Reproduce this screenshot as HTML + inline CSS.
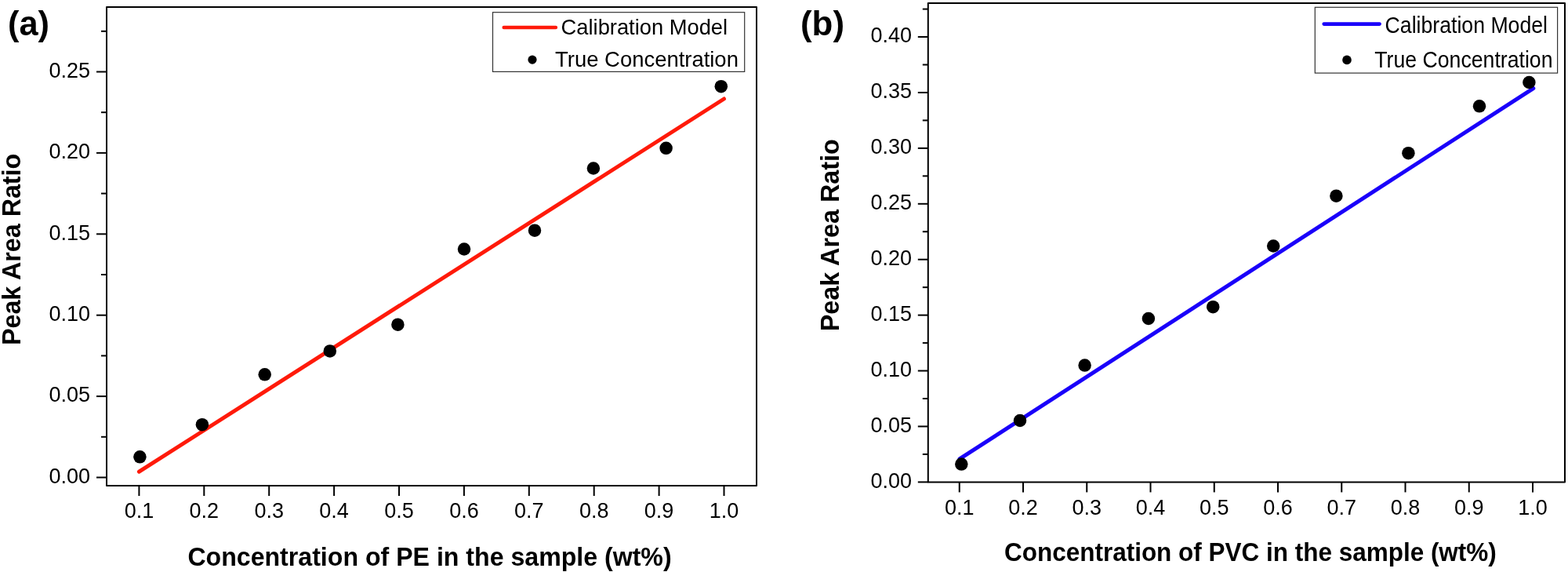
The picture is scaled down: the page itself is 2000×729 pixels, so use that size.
<!DOCTYPE html><html><head><meta charset="utf-8"><style>html,body{margin:0;padding:0;background:#fff;}svg{display:block;}text{font-family:"Liberation Sans",Arial,sans-serif;}</style></head><body>
<svg width="2000" height="729" viewBox="0 0 2000 729">
<rect width="2000" height="729" fill="#fff"/>
<line x1="177.4" y1="601.15" x2="923.5" y2="126.0" stroke="#ff1a0a" stroke-width="5" stroke-linecap="round"/>
<circle cx="178.4" cy="582.3" r="8.25" fill="#000"/>
<circle cx="257.9" cy="541.2" r="8.25" fill="#000"/>
<circle cx="337.7" cy="477.3" r="8.25" fill="#000"/>
<circle cx="420.8" cy="447.4" r="8.25" fill="#000"/>
<circle cx="507.4" cy="413.7" r="8.25" fill="#000"/>
<circle cx="592" cy="317.5" r="8.25" fill="#000"/>
<circle cx="682.0" cy="293.7" r="8.25" fill="#000"/>
<circle cx="756.9" cy="214.5" r="8.25" fill="#000"/>
<circle cx="849.6" cy="188.8" r="8.25" fill="#000"/>
<circle cx="919.8" cy="110.2" r="8.25" fill="#000"/>
<rect x="136" y="9" width="829" height="610" fill="none" stroke="#000" stroke-width="2" stroke-linejoin="round"/>
<line x1="123" y1="608.50" x2="136" y2="608.50" stroke="#000" stroke-width="2"/>
<text x="115" y="615.70" font-size="27" text-anchor="end">0.00</text>
<line x1="129" y1="556.80" x2="136" y2="556.80" stroke="#000" stroke-width="2"/>
<line x1="123" y1="505.10" x2="136" y2="505.10" stroke="#000" stroke-width="2"/>
<text x="115" y="512.30" font-size="27" text-anchor="end">0.05</text>
<line x1="129" y1="453.40" x2="136" y2="453.40" stroke="#000" stroke-width="2"/>
<line x1="123" y1="401.70" x2="136" y2="401.70" stroke="#000" stroke-width="2"/>
<text x="115" y="408.90" font-size="27" text-anchor="end">0.10</text>
<line x1="129" y1="350.00" x2="136" y2="350.00" stroke="#000" stroke-width="2"/>
<line x1="123" y1="298.30" x2="136" y2="298.30" stroke="#000" stroke-width="2"/>
<text x="115" y="305.50" font-size="27" text-anchor="end">0.15</text>
<line x1="129" y1="246.60" x2="136" y2="246.60" stroke="#000" stroke-width="2"/>
<line x1="123" y1="194.90" x2="136" y2="194.90" stroke="#000" stroke-width="2"/>
<text x="115" y="202.10" font-size="27" text-anchor="end">0.20</text>
<line x1="129" y1="143.20" x2="136" y2="143.20" stroke="#000" stroke-width="2"/>
<line x1="123" y1="91.50" x2="136" y2="91.50" stroke="#000" stroke-width="2"/>
<text x="115" y="98.70" font-size="27" text-anchor="end">0.25</text>
<line x1="129" y1="39.80" x2="136" y2="39.80" stroke="#000" stroke-width="2"/>
<line x1="177.40" y1="619" x2="177.40" y2="632" stroke="#000" stroke-width="2"/>
<text x="177.40" y="660" font-size="27" text-anchor="middle">0.1</text>
<line x1="260.30" y1="619" x2="260.30" y2="632" stroke="#000" stroke-width="2"/>
<text x="260.30" y="660" font-size="27" text-anchor="middle">0.2</text>
<line x1="343.20" y1="619" x2="343.20" y2="632" stroke="#000" stroke-width="2"/>
<text x="343.20" y="660" font-size="27" text-anchor="middle">0.3</text>
<line x1="426.10" y1="619" x2="426.10" y2="632" stroke="#000" stroke-width="2"/>
<text x="426.10" y="660" font-size="27" text-anchor="middle">0.4</text>
<line x1="509.00" y1="619" x2="509.00" y2="632" stroke="#000" stroke-width="2"/>
<text x="509.00" y="660" font-size="27" text-anchor="middle">0.5</text>
<line x1="591.90" y1="619" x2="591.90" y2="632" stroke="#000" stroke-width="2"/>
<text x="591.90" y="660" font-size="27" text-anchor="middle">0.6</text>
<line x1="674.80" y1="619" x2="674.80" y2="632" stroke="#000" stroke-width="2"/>
<text x="674.80" y="660" font-size="27" text-anchor="middle">0.7</text>
<line x1="757.70" y1="619" x2="757.70" y2="632" stroke="#000" stroke-width="2"/>
<text x="757.70" y="660" font-size="27" text-anchor="middle">0.8</text>
<line x1="840.60" y1="619" x2="840.60" y2="632" stroke="#000" stroke-width="2"/>
<text x="840.60" y="660" font-size="27" text-anchor="middle">0.9</text>
<line x1="923.50" y1="619" x2="923.50" y2="632" stroke="#000" stroke-width="2"/>
<text x="923.50" y="660" font-size="27" text-anchor="middle">1.0</text>
<rect x="628.5" y="15.7" width="321.20000000000005" height="75.7" fill="#fff" stroke="#333" stroke-width="1.2"/>
<line x1="642.7" y1="35.1" x2="708.9" y2="35.1" stroke="#ff1a0a" stroke-width="4.5" stroke-linecap="round"/>
<circle cx="679" cy="76.1" r="5.6" fill="#000"/>
<text x="715.6" y="43.8" font-size="28" textLength="212.5" lengthAdjust="spacingAndGlyphs">Calibration Model</text>
<text x="708.1" y="84.8" font-size="28" textLength="233.8" lengthAdjust="spacingAndGlyphs">True Concentration</text>
<text x="239.4" y="720.6" font-size="33.3" font-weight="bold" textLength="617.2" lengthAdjust="spacingAndGlyphs">Concentration of PE in the sample (wt%)</text>
<text x="25.8" y="440.0" font-size="33.3" font-weight="bold" textLength="244.2" lengthAdjust="spacingAndGlyphs" transform="rotate(-90 25.8 440.0)">Peak Area Ratio</text>
<text x="10.0" y="45" font-size="44" font-weight="bold" textLength="53.0" lengthAdjust="spacingAndGlyphs">(a)</text>
<line x1="1224" y1="584.9" x2="1955.8" y2="112.6" stroke="#1a00fa" stroke-width="5" stroke-linecap="round"/>
<circle cx="1226.3" cy="591.6" r="8.25" fill="#000"/>
<circle cx="1301" cy="536" r="8.25" fill="#000"/>
<circle cx="1383.6" cy="465.6" r="8.25" fill="#000"/>
<circle cx="1464.9" cy="406" r="8.25" fill="#000"/>
<circle cx="1547.2" cy="391.2" r="8.25" fill="#000"/>
<circle cx="1624.2" cy="313.5" r="8.25" fill="#000"/>
<circle cx="1704.4" cy="249.7" r="8.25" fill="#000"/>
<circle cx="1796.4" cy="195.2" r="8.25" fill="#000"/>
<circle cx="1887" cy="135.3" r="8.25" fill="#000"/>
<circle cx="1950.4" cy="105" r="8.25" fill="#000"/>
<rect x="1183.8" y="4" width="812.2" height="610.4" fill="none" stroke="#000" stroke-width="2" stroke-linejoin="round"/>
<line x1="1170.8" y1="614.40" x2="1183.8" y2="614.40" stroke="#000" stroke-width="2"/>
<text x="1163" y="621.70" font-size="27" text-anchor="end">0.00</text>
<line x1="1176.8" y1="578.94" x2="1183.8" y2="578.94" stroke="#000" stroke-width="2"/>
<line x1="1170.8" y1="543.48" x2="1183.8" y2="543.48" stroke="#000" stroke-width="2"/>
<text x="1163" y="550.78" font-size="27" text-anchor="end">0.05</text>
<line x1="1176.8" y1="508.02" x2="1183.8" y2="508.02" stroke="#000" stroke-width="2"/>
<line x1="1170.8" y1="472.56" x2="1183.8" y2="472.56" stroke="#000" stroke-width="2"/>
<text x="1163" y="479.86" font-size="27" text-anchor="end">0.10</text>
<line x1="1176.8" y1="437.10" x2="1183.8" y2="437.10" stroke="#000" stroke-width="2"/>
<line x1="1170.8" y1="401.64" x2="1183.8" y2="401.64" stroke="#000" stroke-width="2"/>
<text x="1163" y="408.94" font-size="27" text-anchor="end">0.15</text>
<line x1="1176.8" y1="366.18" x2="1183.8" y2="366.18" stroke="#000" stroke-width="2"/>
<line x1="1170.8" y1="330.72" x2="1183.8" y2="330.72" stroke="#000" stroke-width="2"/>
<text x="1163" y="338.02" font-size="27" text-anchor="end">0.20</text>
<line x1="1176.8" y1="295.26" x2="1183.8" y2="295.26" stroke="#000" stroke-width="2"/>
<line x1="1170.8" y1="259.80" x2="1183.8" y2="259.80" stroke="#000" stroke-width="2"/>
<text x="1163" y="267.10" font-size="27" text-anchor="end">0.25</text>
<line x1="1176.8" y1="224.34" x2="1183.8" y2="224.34" stroke="#000" stroke-width="2"/>
<line x1="1170.8" y1="188.88" x2="1183.8" y2="188.88" stroke="#000" stroke-width="2"/>
<text x="1163" y="196.18" font-size="27" text-anchor="end">0.30</text>
<line x1="1176.8" y1="153.42" x2="1183.8" y2="153.42" stroke="#000" stroke-width="2"/>
<line x1="1170.8" y1="117.96" x2="1183.8" y2="117.96" stroke="#000" stroke-width="2"/>
<text x="1163" y="125.26" font-size="27" text-anchor="end">0.35</text>
<line x1="1176.8" y1="82.50" x2="1183.8" y2="82.50" stroke="#000" stroke-width="2"/>
<line x1="1170.8" y1="47.04" x2="1183.8" y2="47.04" stroke="#000" stroke-width="2"/>
<text x="1163" y="54.34" font-size="27" text-anchor="end">0.40</text>
<line x1="1176.8" y1="11.58" x2="1183.8" y2="11.58" stroke="#000" stroke-width="2"/>
<line x1="1223.75" y1="614.4" x2="1223.75" y2="627.4" stroke="#000" stroke-width="2"/>
<text x="1223.75" y="655.7" font-size="27" text-anchor="middle">0.1</text>
<line x1="1305.00" y1="614.4" x2="1305.00" y2="627.4" stroke="#000" stroke-width="2"/>
<text x="1305.00" y="655.7" font-size="27" text-anchor="middle">0.2</text>
<line x1="1386.25" y1="614.4" x2="1386.25" y2="627.4" stroke="#000" stroke-width="2"/>
<text x="1386.25" y="655.7" font-size="27" text-anchor="middle">0.3</text>
<line x1="1467.50" y1="614.4" x2="1467.50" y2="627.4" stroke="#000" stroke-width="2"/>
<text x="1467.50" y="655.7" font-size="27" text-anchor="middle">0.4</text>
<line x1="1548.75" y1="614.4" x2="1548.75" y2="627.4" stroke="#000" stroke-width="2"/>
<text x="1548.75" y="655.7" font-size="27" text-anchor="middle">0.5</text>
<line x1="1630.00" y1="614.4" x2="1630.00" y2="627.4" stroke="#000" stroke-width="2"/>
<text x="1630.00" y="655.7" font-size="27" text-anchor="middle">0.6</text>
<line x1="1711.25" y1="614.4" x2="1711.25" y2="627.4" stroke="#000" stroke-width="2"/>
<text x="1711.25" y="655.7" font-size="27" text-anchor="middle">0.7</text>
<line x1="1792.50" y1="614.4" x2="1792.50" y2="627.4" stroke="#000" stroke-width="2"/>
<text x="1792.50" y="655.7" font-size="27" text-anchor="middle">0.8</text>
<line x1="1873.75" y1="614.4" x2="1873.75" y2="627.4" stroke="#000" stroke-width="2"/>
<text x="1873.75" y="655.7" font-size="27" text-anchor="middle">0.9</text>
<line x1="1955.00" y1="614.4" x2="1955.00" y2="627.4" stroke="#000" stroke-width="2"/>
<text x="1955.00" y="655.7" font-size="27" text-anchor="middle">1.0</text>
<rect x="1677.3" y="9.3" width="309.29999999999995" height="83.8" fill="#fff" stroke="#333" stroke-width="1.2"/>
<line x1="1688.7" y1="30.6" x2="1759.6" y2="30.6" stroke="#1a00fa" stroke-width="4.6" stroke-linecap="round"/>
<circle cx="1718" cy="76.4" r="5.8" fill="#000"/>
<text x="1766.6" y="41.6" font-size="28.8" textLength="207.4" lengthAdjust="spacingAndGlyphs">Calibration Model</text>
<text x="1753.3" y="86.0" font-size="28.8" textLength="227.2" lengthAdjust="spacingAndGlyphs">True Concentration</text>
<text x="1281.0" y="715.3" font-size="33.3" font-weight="bold" textLength="627.8" lengthAdjust="spacingAndGlyphs">Concentration of PVC in the sample (wt%)</text>
<text x="1070.4" y="422.2" font-size="33.3" font-weight="bold" textLength="245.0" lengthAdjust="spacingAndGlyphs" transform="rotate(-90 1070.4 422.2)">Peak Area Ratio</text>
<text x="1021.0" y="45" font-size="44" font-weight="bold" textLength="56.0" lengthAdjust="spacingAndGlyphs">(b)</text>
</svg></body></html>
